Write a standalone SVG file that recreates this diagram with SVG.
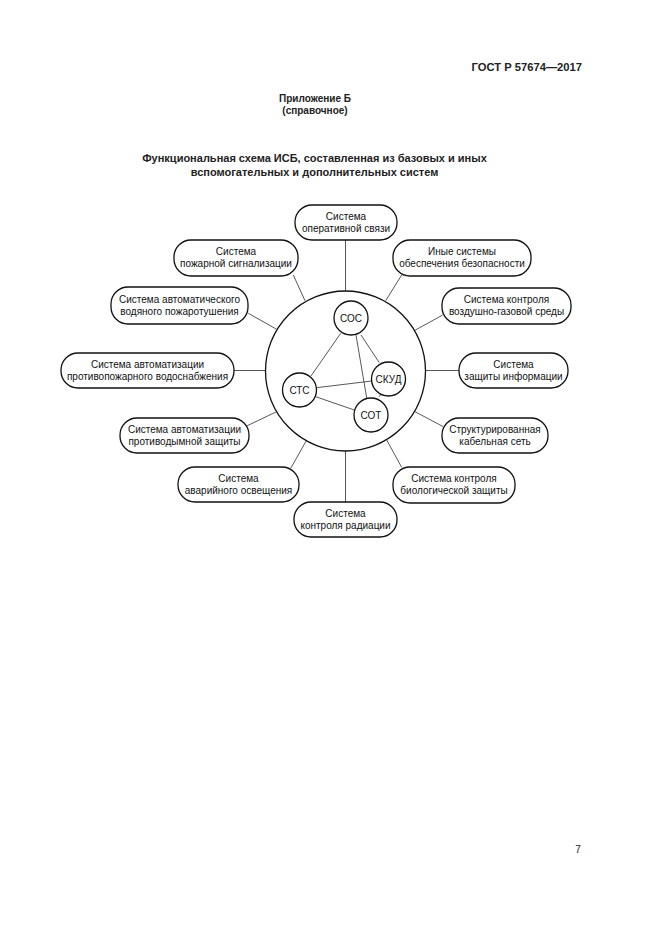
<svg xmlns="http://www.w3.org/2000/svg" width="661" height="935" viewBox="0 0 661 935">
<style>
.hdr{font-family:"Liberation Sans",Arial,sans-serif;font-weight:bold;fill:#222}
.pn{font-family:"Liberation Sans",Arial,sans-serif;font-size:10px;fill:#222;text-anchor:middle}
.pill{fill:#fff;stroke:#111;stroke-width:1.3}
.circ{fill:#fff;stroke:#111;stroke-width:1.3}
.t{font-family:"Liberation Sans",Arial,sans-serif;font-size:10px;fill:#111;text-anchor:middle}
.ln{stroke:#444;stroke-width:0.9;fill:none}
</style>
<rect width="661" height="935" fill="#fff"/>
<text class="hdr" x="582" y="71" font-size="11.2" text-anchor="end">ГОСТ Р 57674—2017</text>
<text class="hdr" x="315" y="102" font-size="10" text-anchor="middle">Приложение Б</text>
<text class="hdr" x="315" y="114" font-size="10" text-anchor="middle">(справочное)</text>
<text class="hdr" x="314.5" y="162" font-size="11" text-anchor="middle">Функциональная схема ИСБ, составленная из базовых и иных</text>
<text class="hdr" x="314.5" y="176" font-size="11" text-anchor="middle">вспомогательных и дополнительных систем</text>
<text class="pn" x="578" y="853">7</text>

<g id="connectors">
<line class="ln" x1="345.5" y1="240" x2="345.5" y2="291"/>
<line class="ln" x1="401.7" y1="275" x2="385.7" y2="300.7"/>
<line class="ln" x1="442.7" y1="315" x2="414.5" y2="330.5"/>
<line class="ln" x1="459" y1="370.5" x2="425.5" y2="370.5"/>
<line class="ln" x1="443.3" y1="426.7" x2="415" y2="411.7"/>
<line class="ln" x1="401.7" y1="467.3" x2="386.7" y2="440"/>
<line class="ln" x1="345.5" y1="451" x2="345.5" y2="502"/>
<line class="ln" x1="290.7" y1="468.3" x2="306.7" y2="440"/>
<line class="ln" x1="246.7" y1="426" x2="276.7" y2="411.7"/>
<line class="ln" x1="234" y1="370.5" x2="265.5" y2="370.5"/>
<line class="ln" x1="248.3" y1="313.3" x2="276.7" y2="329.3"/>
<line class="ln" x1="293.3" y1="275" x2="305" y2="300.7"/>
</g>

<g id="isb">
<circle class="circ" cx="345.5" cy="371" r="80"/>
</g>

<g id="inner-connectors">
<line class="ln" x1="340.7" y1="333.3" x2="311" y2="376"/>
<line class="ln" x1="361" y1="335" x2="379.3" y2="362.7"/>
<line class="ln" x1="356" y1="335" x2="366.7" y2="398"/>
<line class="ln" x1="316.5" y1="387.7" x2="371.7" y2="381"/>
<line class="ln" x1="315.7" y1="396.7" x2="354.3" y2="410"/>
<line class="ln" x1="385.7" y1="385.3" x2="379.3" y2="396.7"/>
</g>

<g id="sos"><circle class="circ" cx="351" cy="318" r="17"/><text class="t" x="351" y="322">СОС</text></g>
<g id="skud"><circle class="circ" cx="388.5" cy="379" r="17"/><text class="t" x="388.5" y="383">СКУД</text></g>
<g id="sts"><circle class="circ" cx="299.5" cy="390" r="17"/><text class="t" x="299.5" y="394">СТС</text></g>
<g id="sot"><circle class="circ" cx="371" cy="415" r="17"/><text class="t" x="371" y="419">СОТ</text></g>

<g id="n1"><rect class="pill" x="295" y="205" width="102" height="35" rx="17"/><text class="t" x="346" y="219.5">Система</text><text class="t" x="346" y="231.5">оперативной связи</text></g>
<g id="n2"><rect class="pill" x="393" y="240" width="138" height="36" rx="17"/><text class="t" x="462" y="255">Иные системы</text><text class="t" x="462" y="267">обеспечения безопасности</text></g>
<g id="n3"><rect class="pill" x="442" y="288" width="129" height="36" rx="17"/><text class="t" x="506.5" y="303">Система контроля</text><text class="t" x="506.5" y="315">воздушно-газовой среды</text></g>
<g id="n4"><rect class="pill" x="459" y="353" width="109" height="35" rx="17"/><text class="t" x="513.5" y="367.5">Система</text><text class="t" x="513.5" y="379.5">защиты информации</text></g>
<g id="n5"><rect class="pill" x="442" y="418" width="106" height="35" rx="17"/><text class="t" x="495" y="432.5">Структурированная</text><text class="t" x="495" y="444.5">кабельная сеть</text></g>
<g id="n6"><rect class="pill" x="393" y="467" width="122" height="36" rx="17"/><text class="t" x="454" y="482">Система контроля</text><text class="t" x="454" y="494">биологической защиты</text></g>
<g id="n7"><rect class="pill" x="294" y="502" width="103" height="35" rx="17"/><text class="t" x="345.5" y="516.5">Система</text><text class="t" x="345.5" y="528.5">контроля радиации</text></g>
<g id="n8"><rect class="pill" x="178" y="467" width="121" height="35" rx="17"/><text class="t" x="238.5" y="481.5">Система</text><text class="t" x="238.5" y="493.5">аварийного освещения</text></g>
<g id="n9"><rect class="pill" x="120" y="418" width="129" height="35" rx="17"/><text class="t" x="184.5" y="432.5">Система автоматизации</text><text class="t" x="184.5" y="444.5">противодымной защиты</text></g>
<g id="n10"><rect class="pill" x="61" y="353" width="173" height="35" rx="17"/><text class="t" x="147.5" y="367.5">Система автоматизации</text><text class="t" x="147.5" y="379.5">противопожарного водоснабжения</text></g>
<g id="n11"><rect class="pill" x="111" y="287" width="137" height="37" rx="17"/><text class="t" x="179.5" y="302.5">Система автоматического</text><text class="t" x="179.5" y="314.5">водяного пожаротушения</text></g>
<g id="n12"><rect class="pill" x="174" y="240" width="124" height="36" rx="17"/><text class="t" x="236" y="255">Система</text><text class="t" x="236" y="267">пожарной сигнализации</text></g>
</svg>
